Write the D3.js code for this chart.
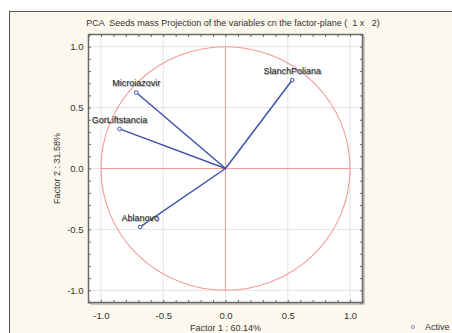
<!DOCTYPE html>
<html>
<head>
<meta charset="utf-8">
<script src="https://cdn.jsdelivr.net/npm/d3@7"></script>
<style>
  body { margin: 0; background: #fff; }
  text { font-family: "Liberation Sans", Arial, sans-serif; white-space: pre; }
</style>
</head>
<body>
<div id="chart"></div>
<script>
// PCA projection of variables on factor plane 1 x 2
const variables = ["SlanchPoliana", "Microiazovir", "GorLiftstancia", "Ablanovo"];
const factor1 = [0.536, -0.717, -0.851, -0.685];
const factor2 = [0.726, 0.624, 0.325, -0.480];
const tickValues = [-1.0, -0.5, 0.0, 0.5, 1.0];
const minorTicks = d3.range(-11, 12).map(function(i) { return i / 10; });

const W = 452, H = 333;
const fmt = function(d) { return d3.format(".1f")(d).replace("\u2212", "-"); };

let svg = d3.select("#chart")
  .append("svg")
    .attr("width", W)
    .attr("height", H);

// outer panel
svg.append("rect")
    .attr("x", 9.5).attr("y", 11.5)
    .attr("width", W).attr("height", H)
    .attr("fill", "#fdf8ee")
    .attr("stroke", "#555")
    .attr("stroke-width", 1);

let x = d3.scaleLinear().domain([-1.1, 1.1]).range([88.5, 362.5]);
let y = d3.scaleLinear().domain([-1.1, 1.1]).range([302.5, 34.5]);

// plot background
svg.append("rect")
    .attr("x", x(-1.1)).attr("y", y(1.1))
    .attr("width", x(1.1) - x(-1.1))
    .attr("height", y(-1.1) - y(1.1))
    .attr("fill", "#fff");

// grid
svg.append("g").selectAll("line")
  .data(tickValues).enter().append("line")
    .attr("x1", function(d) { return x(d); })
    .attr("x2", function(d) { return x(d); })
    .attr("y1", y(1.1)).attr("y2", y(-1.1))
    .attr("stroke", "#e4e4e4").attr("stroke-width", 1);
svg.append("g").selectAll("line")
  .data(tickValues).enter().append("line")
    .attr("y1", function(d) { return y(d); })
    .attr("y2", function(d) { return y(d); })
    .attr("x1", x(-1.1)).attr("x2", x(1.1))
    .attr("stroke", "#e4e4e4").attr("stroke-width", 1);

// unit circle and cross
const red = "#f39a9a";
svg.append("ellipse")
    .attr("cx", x(0)).attr("cy", y(0))
    .attr("rx", x(1) - x(0)).attr("ry", y(0) - y(1))
    .attr("fill", "none")
    .attr("stroke", red).attr("stroke-width", 1.1);
svg.append("line")
    .attr("x1", x(-1)).attr("x2", x(1))
    .attr("y1", y(0)).attr("y2", y(0))
    .attr("stroke", red).attr("stroke-width", 1.1);
svg.append("line")
    .attr("x1", x(0)).attr("x2", x(0))
    .attr("y1", y(1)).attr("y2", y(-1))
    .attr("stroke", red).attr("stroke-width", 1.1);

// vectors
const blue = "#3f52aa";
const pts = variables.map(function(v, i) { return {name: v, f1: factor1[i], f2: factor2[i]}; });
svg.append("g").selectAll("line")
  .data(pts).enter().append("line")
    .attr("x1", x(0)).attr("y1", y(0))
    .attr("x2", function(d) { return x(d.f1); })
    .attr("y2", function(d) { return y(d.f2); })
    .attr("stroke", blue).attr("stroke-width", 1.5);
svg.append("g").selectAll("circle")
  .data(pts).enter().append("circle")
    .attr("cx", function(d) { return x(d.f1); })
    .attr("cy", function(d) { return y(d.f2); })
    .attr("r", 1.8)
    .attr("fill", "#fff")
    .attr("stroke", blue).attr("stroke-width", 1);
// labels with a faint shadow
svg.append("g").selectAll("text")
  .data(pts).enter().append("text")
    .attr("x", function(d) { return x(d.f1) + 0.7; })
    .attr("y", function(d) { return y(d.f2) - 5.3; })
    .attr("text-anchor", "middle")
    .style("font-size", "9px")
    .attr("fill", "#aaa")
    .text(function(d) { return d.name; });
svg.append("g").selectAll("text")
  .data(pts).enter().append("text")
    .attr("x", function(d) { return x(d.f1); })
    .attr("y", function(d) { return y(d.f2) - 6; })
    .attr("text-anchor", "middle")
    .style("font-size", "9px")
    .attr("fill", "#222")
    .text(function(d) { return d.name; });

// frame with shadow on right and bottom
svg.append("path")
    .attr("d", "M" + (x(1.1) + 1.5) + "," + (y(1.1) + 2) + "V" + (y(-1.1) + 1.5) + "H" + (x(-1.1) + 2))
    .attr("fill", "none")
    .attr("stroke", "#b5b5b5").attr("stroke-width", 1.5);
svg.append("rect")
    .attr("x", x(-1.1)).attr("y", y(1.1))
    .attr("width", x(1.1) - x(-1.1))
    .attr("height", y(-1.1) - y(1.1))
    .attr("fill", "none")
    .attr("stroke", "#6a6a6a").attr("stroke-width", 1.5);

// axes (ticks inside on all sides)
function styleTicks(g) { g.select(".domain").remove(); g.selectAll("line").attr("stroke", "#666"); }
svg.append("g").attr("transform", "translate(0," + y(-1.1) + ")")
    .call(d3.axisTop(x).tickValues(minorTicks).tickSize(2.5).tickFormat(""))
    .call(styleTicks);
svg.append("g").attr("transform", "translate(0," + y(1.1) + ")")
    .call(d3.axisBottom(x).tickValues(minorTicks).tickSize(2.5).tickFormat(""))
    .call(styleTicks);
svg.append("g").attr("transform", "translate(" + x(-1.1) + ",0)")
    .call(d3.axisRight(y).tickValues(minorTicks).tickSize(2.5).tickFormat(""))
    .call(styleTicks);
svg.append("g").attr("transform", "translate(" + x(1.1) + ",0)")
    .call(d3.axisLeft(y).tickValues(minorTicks).tickSize(2.5).tickFormat(""))
    .call(styleTicks);

// tick labels
function styleLabels(g) {
  g.select(".domain").remove();
  g.selectAll("text").style("font-size", "9.5px").attr("fill", "#333")
    .style("font-family", "'Liberation Sans', Arial, sans-serif");
}
svg.append("g").attr("transform", "translate(0," + y(-1.1) + ")")
    .call(d3.axisBottom(x).tickValues(tickValues).tickSize(0).tickPadding(10).tickFormat(fmt))
    .call(styleLabels);
svg.append("g").attr("transform", "translate(" + x(-1.1) + ",0)")
    .call(d3.axisLeft(y).tickValues(tickValues).tickSize(0).tickPadding(5).tickFormat(fmt))
    .call(styleLabels);

// titles
svg.append("text")
    .attr("x", 233).attr("y", 26)
    .attr("text-anchor", "middle")
    .style("font-size", "9px").attr("fill", "#333")
    .text("PCA  Seeds mass Projection of the variables cn the factor-plane (  1 x   2)");
svg.append("text")
    .attr("x", x(0)).attr("y", 331)
    .attr("text-anchor", "middle")
    .style("font-size", "9px").attr("fill", "#333")
    .text("Factor 1 : 60.14%");
svg.append("text")
    .attr("transform", "translate(60," + y(0) + ")rotate(-90)")
    .attr("text-anchor", "middle")
    .style("font-size", "9px").attr("fill", "#333")
    .text("Factor 2 : 31.58%");

// legend
svg.append("circle")
    .attr("cx", 413).attr("cy", 327).attr("r", 1.5)
    .attr("fill", "#fff").attr("stroke", "#6070b0").attr("stroke-width", 0.8);
svg.append("text")
    .attr("x", 425).attr("y", 330)
    .style("font-size", "9px").attr("fill", "#333")
    .text("Active");
</script>
</body>
</html>
